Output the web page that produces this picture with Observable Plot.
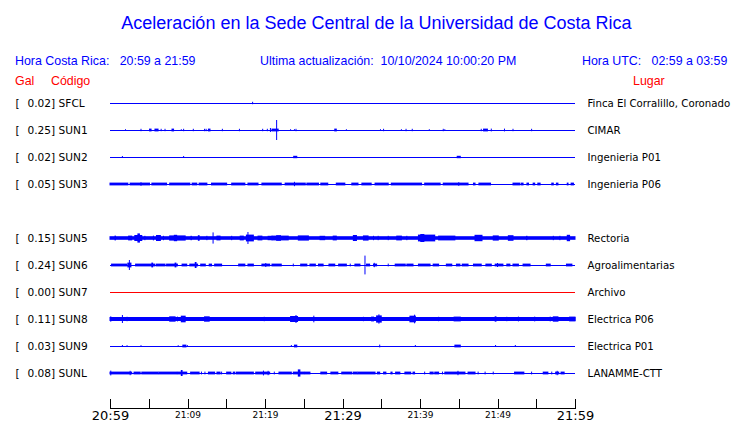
<!DOCTYPE html>
<html><head><meta charset="utf-8">
<script src="https://cdn.jsdelivr.net/npm/d3@7"></script>
<script src="https://cdn.jsdelivr.net/npm/@observablehq/plot@0.6"></script>
<style>
body{margin:0;background:#fff;}
#wrap{position:relative;width:740px;height:423px;overflow:hidden;font-family:"Liberation Sans",Arial,sans-serif;}
#chart{position:absolute;left:0;top:0;}
.h{position:absolute;white-space:pre;color:#0000ff;font-size:12.4px;line-height:14px;}
.r{color:#ff0000;}
#title{left:0;width:753px;text-align:center;top:12px;font-size:18px;line-height:22px;}
</style></head>
<body><div id="wrap">
<div id="chart"></div>
<div class="h" id="title">Aceleración en la Sede Central de la Universidad de Costa Rica</div>
<div class="h" style="left:15px;top:54px">Hora Costa Rica:   20:59 a 21:59</div>
<div class="h" style="left:260px;top:54px">Ultima actualización:  10/10/2024 10:00:20 PM</div>
<div class="h" style="left:582px;top:54px">Hora UTC:   02:59 a 03:59</div>
<div class="h r" style="left:15px;top:74px">Gal</div>
<div class="h r" style="left:51px;top:74px">Código</div>
<div class="h r" style="left:633px;top:74px">Lugar</div>
</div>
<script>
// Stations
const codes  = ["SFCL","SUN1","SUN2","SUN3","SUN5","SUN6","SUN7","SUN8","SUN9","SUNL"];
const rows   = [0, 1, 2, 3, 5, 6, 7, 8, 9, 10];
const peakGal = [0.02, 0.25, 0.02, 0.05, 0.15, 0.24, 0.00, 0.11, 0.03, 0.08];
const places = ["Finca El Corralillo, Coronado","CIMAR","Ingenieria P01","Ingenieria P06","Rectoria","Agroalimentarias","Archivo","Electrica P06","Electrica P01","LANAMME-CTT"];

// time axis: minutes after 20:59
const startMin = 0, endMin = 60;
const tickMinutes = [0,5,10,15,20,25,30,35,40,45,50,55,60];
const tickLabels  = ["20:59","","21:09","","21:19","","21:29","","21:39","","21:49","","21:59"];
const bigLabels   = ["20:59","21:29","21:59"];

// acceleration bursts per station: [start minute, end minute, half amplitude in Gal]
const sfclBursts = [[18.4,18.4,0.03]];
const sun1Bursts = [[2.0,2.0,0.02],[4.0,4.0,0.03],[5.1,5.3,0.035],[5.8,6.2,0.035],[6.6,6.6,0.03],[7.1,7.1,0.03],[8.0,8.2,0.035],[9.2,9.2,0.02],[9.5,9.5,0.03],[10.75,10.75,0.03],[12.2,12.2,0.03],[12.4,12.4,0.03],[12.7,12.9,0.035],[14.5,14.5,0.03],[16.7,16.7,0.03],[19.7,19.7,0.03],[20.3,20.3,0.03],[20.7,20.7,0.05],[20.9,21.7,0.035],[21.5,21.5,0.25],[23.3,23.3,0.02],[23.8,23.8,0.02],[24.0,24.0,0.03],[29.0,29.2,0.035],[30.5,30.5,0.02],[34.9,34.9,0.02],[35.3,35.3,0.03],[37.6,37.6,0.02],[38.2,38.2,0.03],[39.0,39.0,0.03],[41.2,41.2,0.02],[43.0,43.0,0.03],[43.2,43.2,0.02],[47.9,47.9,0.03],[48.2,48.7,0.035],[49.2,49.2,0.035],[50.9,50.9,0.035],[52.0,52.0,0.03],[54.4,54.4,0.03]];
const sun2Bursts = [[1.6,1.6,0.025],[9.5,9.5,0.025],[23.7,24.1,0.03],[44.8,45.2,0.03]];
const sun3Bursts = [[0,2.3,0.035],[2.6,5.1,0.035],[5.4,7.3,0.035],[7.7,10.3,0.035],[10.6,11.2,0.035],[11.5,12.5,0.035],[13.1,15.05,0.035],[15.7,17.4,0.035],[17.8,19.1,0.035],[19.6,22.1,0.035],[22.6,25.2,0.035],[25.4,26.9,0.035],[27.2,28.1,0.035],[29.2,30.3,0.035],[31.2,32.0,0.035],[32.5,33.7,0.035],[34.2,35.9,0.035],[36.3,40.2,0.035],[40.6,42.6,0.035],[43.0,46.2,0.035],[46.9,47.1,0.035],[47.6,49.1,0.035],[52.0,52.9,0.035],[53.1,53.3,0.035],[53.8,54.0,0.035],[54.6,54.8,0.035],[55.2,55.5,0.035],[57.0,57.2,0.035],[57.6,57.8,0.035],[59.0,59.1,0.035],[59.5,59.8,0.035],[4.0,4.0,0.045],[23.8,23.8,0.055],[45.0,45.0,0.045]];
const sun5Bursts = [[0,60,0.045],[0.65,0.7,0.06],[2.4,2.8,0.06],[3.2,4.1,0.075],[3.6,3.8,0.115],[4.5,4.5,0.055],[5.6,5.6,0.06],[6.0,6.5,0.075],[6.9,6.9,0.055],[7.7,9.7,0.065],[8.3,8.6,0.08],[10.45,10.5,0.055],[11.4,11.5,0.07],[12.5,12.5,0.055],[13.3,13.3,0.14],[13.8,14.2,0.06],[15.7,15.7,0.055],[16.8,17.2,0.06],[17.8,17.8,0.15],[17.6,18.5,0.085],[19.1,19.6,0.06],[20.4,20.9,0.055],[20.9,23.0,0.06],[21.5,22.0,0.07],[24.3,25.6,0.065],[27.1,27.7,0.055],[28.8,29.2,0.06],[31.4,31.8,0.075],[32.7,33.3,0.065],[34.0,34.0,0.055],[34.6,34.6,0.055],[35.9,35.9,0.055],[37.0,37.6,0.06],[38.3,38.3,0.055],[39.8,41.9,0.085],[40.1,40.5,0.1],[42.4,44.5,0.06],[47.1,48.0,0.08],[49.45,50.1,0.065],[51.4,52.0,0.07],[53.75,53.8,0.055],[57.2,57.2,0.055],[58.05,58.05,0.055],[59.0,59.3,0.08]];
const sun6Bursts = [[0.2,2.15,0.035],[3.3,5.8,0.035],[6.0,7.1,0.035],[7.3,8.7,0.035],[9.3,9.9,0.035],[10.3,11.3,0.035],[11.7,12.3,0.035],[12.8,13.1,0.035],[13.5,14.4,0.035],[16.6,17.4,0.035],[17.8,18.5,0.035],[19.6,20.6,0.035],[20.9,22.1,0.035],[23.65,23.65,0.035],[24.6,25.4,0.035],[25.8,26.5,0.035],[26.9,27.5,0.035],[28.25,29.0,0.035],[29.5,30.5,0.035],[31.0,31.0,0.035],[31.6,32.25,0.035],[33.1,33.5,0.035],[34.0,34.4,0.035],[35.9,35.9,0.035],[36.8,38.1,0.035],[38.3,39.1,0.035],[39.8,41.3,0.035],[41.7,42.4,0.035],[43.4,44.1,0.035],[44.7,45.15,0.035],[45.45,46.2,0.035],[46.9,47.9,0.035],[48.5,49.2,0.035],[49.7,50.7,0.035],[51.2,51.6,0.035],[52.0,52.7,0.035],[53.3,54.2,0.035],[56.3,56.8,0.035],[58.9,59.6,0.035],[2.5,2.5,0.125],[2.3,2.7,0.06],[5.4,5.5,0.06],[8.4,8.5,0.06],[11.0,11.1,0.075],[20.1,20.1,0.05],[32.9,32.9,0.235],[34.1,34.1,0.055],[50.0,50.0,0.05]];
const sun7Bursts = [];
const sun8Bursts = [[0,60,0.05],[0.1,0.1,0.067],[1.6,1.6,0.1],[2.2,2.2,0.055],[7.7,8.4,0.067],[8.7,8.7,0.06],[9.2,9.7,0.083],[12.2,12.8,0.067],[19.9,19.9,0.055],[23.3,24.2,0.075],[24.0,24.0,0.1],[26.3,26.3,0.083],[32.7,32.7,0.055],[33.75,34.0,0.06],[34.4,35.0,0.09],[34.7,34.7,0.117],[38.7,39.4,0.083],[39.3,39.3,0.108],[42.4,42.4,0.055],[44.4,45.2,0.06],[49.7,49.8,0.067],[51.2,51.2,0.055],[52.7,52.7,0.06],[54.8,54.8,0.06],[56.8,56.8,0.06],[57.2,57.8,0.067],[59.3,60,0.06]];
const sun9Bursts = [[1.6,1.6,0.025],[2.2,2.2,0.02],[4.0,4.0,0.02],[8.8,8.8,0.02],[9.4,9.8,0.035],[10.0,10.0,0.02],[23.4,23.4,0.025],[23.8,24.1,0.035],[34.8,34.8,0.035],[39.4,39.4,0.025],[44.5,45.2,0.035],[49.75,49.75,0.025],[52.3,52.3,0.025]];
const sunlBursts = [[0,2.8,0.035],[3.1,3.9,0.035],[4.1,6.2,0.035],[6.3,8.6,0.035],[8.7,9.9,0.035],[10.4,11.5,0.035],[11.8,11.8,0.035],[12.25,12.25,0.035],[12.7,13.5,0.035],[13.8,14.2,0.035],[14.4,14.4,0.035],[15.05,15.6,0.035],[15.9,16.1,0.035],[16.3,18.5,0.035],[18.8,20.6,0.035],[21.2,21.2,0.035],[21.8,23.4,0.035],[23.65,25.1,0.035],[25.2,25.8,0.035],[27.2,27.95,0.035],[28.5,29.4,0.035],[29.9,31.2,0.035],[31.4,31.9,0.035],[32.0,34.2,0.035],[34.5,34.8,0.035],[35.3,35.6,0.035],[36.25,36.4,0.035],[36.85,37.4,0.035],[38.05,38.8,0.035],[39.1,39.3,0.035],[40.6,40.6,0.035],[41.3,41.7,0.035],[41.9,42.4,0.035],[42.9,42.9,0.035],[43.2,45.8,0.035],[46.2,47.1,0.035],[47.5,47.5,0.035],[48.4,48.4,0.035],[49.45,49.45,0.035],[52.2,53.4,0.035],[54.4,54.4,0.035],[55.9,56.5,0.035],[57.0,57.0,0.035],[57.5,57.9,0.035],[58.2,58.6,0.035],[0.1,0.1,0.06],[2.6,2.6,0.055],[9.2,9.3,0.075],[19.8,19.8,0.06],[20.4,20.4,0.055],[24.3,24.5,0.09],[44.9,44.9,0.055],[57.7,57.7,0.055]];
const bursts = [sfclBursts, sun1Bursts, sun2Bursts, sun3Bursts, sun5Bursts, sun6Bursts, sun7Bursts, sun8Bursts, sun9Bursts, sunlBursts];

// display constants
const galPerRow = 0.675;   // vertical gain: Gal per row spacing
const blue = "#0000ff", red = "#ff0000";
const W = 740, H = 423, mTop = 90, mBottom = 14, mLeft = 110, mRight = 165;
const frameH = H - mTop - mBottom;
const rowRange = [103, 373];

const stations = codes.map((code, i) => ({code, row: rows[i], peak: peakGal[i], place: places[i]}));
const segs = codes.flatMap((code, i) => bursts[i].map(([t0, t1, a]) => ({row: rows[i], t0, t1, a})));
const ticks = tickMinutes.map((m, i) => ({m, label: tickLabels[i]}));
const labelled = ticks.filter(d => d.label);

const chart = Plot.plot({
  width: W, height: H,
  marginTop: mTop, marginBottom: mBottom, marginLeft: mLeft, marginRight: mRight,
  style: {fontFamily: "DejaVu Sans", fontSize: "10.4px", background: "#fff", overflow: "visible"},
  x: {domain: [startMin, endMin], axis: null},
  y: {domain: [rows[0], rows[rows.length - 1]], range: rowRange, axis: null},
  marks: [
    Plot.ruleY(stations, {y: "row", x1: startMin, x2: endMin, stroke: d => d.peak > 0 ? blue : red, strokeWidth: 1, shapeRendering: "crispEdges"}),
    Plot.rect(segs, {x1: "t0", x2: "t1", y1: d => d.row - d.a / galPerRow, y2: d => d.row + d.a / galPerRow,
      fill: blue, insetLeft: -0.5, insetRight: -0.5}),
    Plot.text(stations, {y: "row", text: () => "[", frameAnchor: "left", dx: -95, textAnchor: "start", fill: "black", fontSize: 10.6}),
    Plot.text(stations, {y: "row", text: d => `${d.peak.toFixed(2)}] ${d.code}`, frameAnchor: "left", dx: -83, textAnchor: "start", fill: "black", fontSize: 10.6}),
    Plot.text(stations, {y: "row", text: "place", frameAnchor: "right", dx: 12, textAnchor: "start", fill: "black", fontSize: 10.2}),
    // time axis
    Plot.rect([0], {x1: startMin, x2: endMin, insetTop: frameH - 1, fill: "black", insetRight: -1, shapeRendering: "crispEdges"}),
    Plot.ruleX(ticks, {x: "m", insetTop: frameH - 10, stroke: "black", strokeWidth: 1, shapeRendering: "crispEdges"}),
    Plot.text(labelled, {x: "m", text: "label", frameAnchor: "bottom", dy: 6, lineAnchor: "middle", fill: "black",
      fontSize: d => bigLabels.includes(d.label) ? 13 : 9})
  ]
});
document.getElementById("chart").appendChild(chart);
</script>
</body></html>
